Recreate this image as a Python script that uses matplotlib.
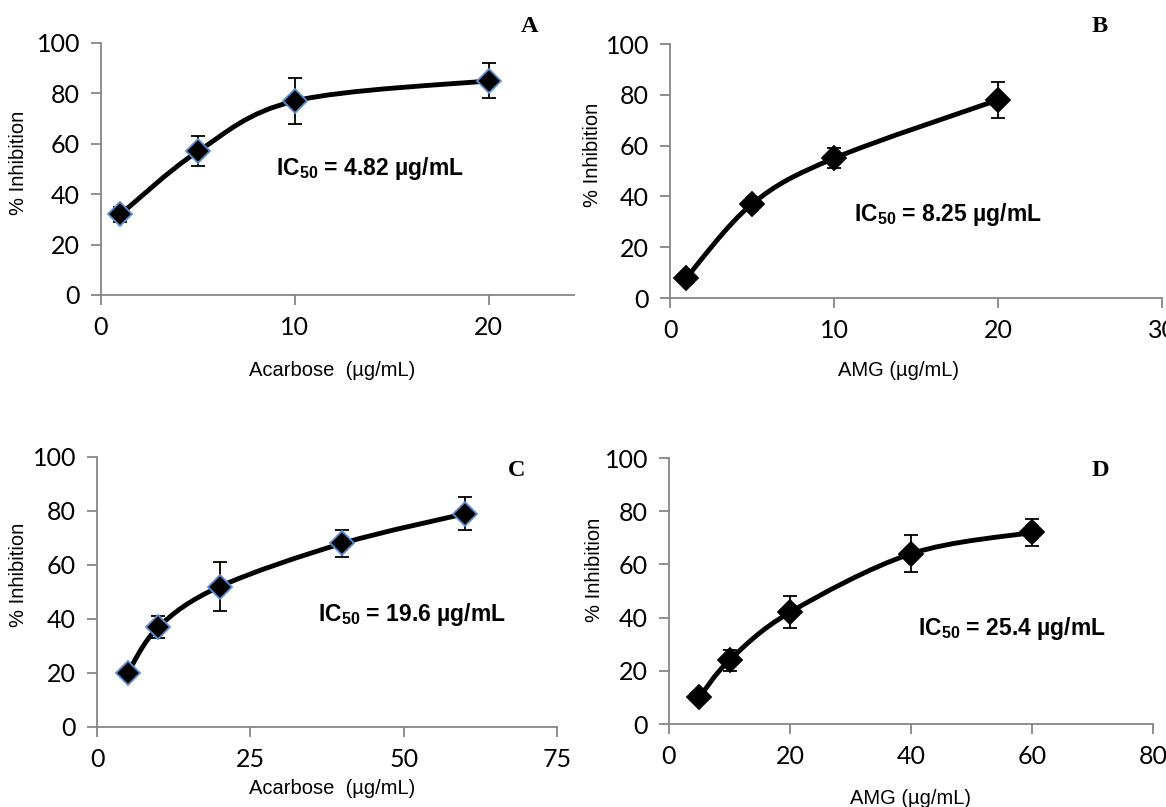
import numpy as np
import matplotlib
matplotlib.use("Agg")
import matplotlib.pyplot as plt
from matplotlib.path import Path
from matplotlib.patches import PathPatch
from matplotlib import font_manager

# panel A - acarbose (alpha-glucosidase)
a_x = [1, 5, 10, 20]
a_y = [32, 57, 77, 85]
a_err = [3, 6, 9, 7]

# panel B - AMG
b_x = [1, 5, 10, 20]
b_y = [8, 37, 55, 78]
b_err = [1, 2, 4, 7]

# panel C - acarbose (alpha-amylase)
c_x = [5, 10, 20, 40, 60]
c_y = [20, 37, 52, 68, 79]
c_err = [1, 4, 9, 5, 6]

# panel D - AMG
d_x = [5, 10, 20, 40, 60]
d_y = [10, 24, 42, 64, 72]
d_err = [1, 4, 6, 7, 5]

W, H = 1166, 807
GREY = '#868686'
TICK_FONT = 'Lato'
LABEL_FONT = 'Liberation Sans'

# narrow bold face for the IC50 notes if it is there
try:
    font_manager.findfont('Liberation Sans Narrow', fallback_to_default=False)
    IC_FONT, IC_SIZE = 'Liberation Sans Narrow', 19.5
except ValueError:
    IC_FONT, IC_SIZE = 'Liberation Sans', 16.5

plt.rcParams['mathtext.fontset'] = 'custom'
plt.rcParams['mathtext.rm'] = IC_FONT + ':bold'
plt.rcParams['mathtext.bf'] = IC_FONT + ':bold'


def px(x, y):
    return x / W, 1 - y / H


def box(l, r, t, b):
    return [l / W, 1 - b / H, (r - l) / W, (b - t) / H]


def smooth_path(x, y):
    # excel style smoothed line: catmull-rom segments as cubic bezier
    p = np.column_stack([x, y]).astype(float)
    n = len(p)
    verts = [p[0]]
    codes = [Path.MOVETO]
    for i in range(n - 1):
        p0 = p[i - 1] if i > 0 else p[i]
        p3 = p[i + 2] if i + 2 < n else p[i + 1]
        c1 = p[i] + (p[i + 1] - p0) / 6.0
        c2 = p[i + 1] - (p3 - p[i]) / 6.0
        verts += [c1, c2, p[i + 1]]
        codes += [Path.CURVE4] * 3
    return Path(verts, codes)


def panel(rect, x, y, err, xlim, xticks, edge):
    ax = fig.add_axes(rect)
    ax.add_patch(PathPatch(smooth_path(x, y), fill=False, lw=3.5,
                           color='black', capstyle='round', zorder=2))
    ax.errorbar(x, y, yerr=err, fmt='none', ecolor='black', elinewidth=1.3,
                capsize=5, capthick=1.3, zorder=3)
    ax.plot(x, y, ls='none', marker='D', ms=12.5, mfc='black', mec=edge,
            mew=1.3, zorder=4, clip_on=False)
    ax.set_xlim(*xlim)
    ax.set_ylim(0, 100)
    ax.set_xticks(xticks)
    ax.set_yticks(range(0, 101, 20))
    for s in ['top', 'right']:
        ax.spines[s].set_visible(False)
    for s in ['left', 'bottom']:
        ax.spines[s].set_color(GREY)
        ax.spines[s].set_linewidth(1.3)
    ax.tick_params(colors=GREY, width=1.3, length=7, labelcolor='black',
                   labelsize=18, pad=8)
    for lab in ax.get_xticklabels() + ax.get_yticklabels():
        lab.set_fontfamily(TICK_FONT)
    ax.patch.set_alpha(0)
    return ax


fig = plt.figure(figsize=(W / 100, H / 100), dpi=100)

panel(box(101, 574, 43, 295), a_x, a_y, a_err, (0, 24.4), [0, 10, 20], '#5b8fd0')
panel(box(670, 1162, 44, 298), b_x, b_y, b_err, (0, 30), [0, 10, 20, 30], 'black')
panel(box(97, 557, 457, 727), c_x, c_y, c_err, (0, 75), [0, 25, 50, 75], '#5b8fd0')
panel(box(669, 1153, 458, 724), d_x, d_y, d_err, (0, 80), [0, 20, 40, 60, 80], 'black')

xlabels = [('Acarbose  (µg/mL)', 332, 370), ('AMG (µg/mL)', 898, 370),
           ('Acarbose  (µg/mL)', 332, 789), ('AMG (µg/mL)', 911, 798)]
for t, x, y in xlabels:
    fig.text(*px(x, y), t, ha='center', va='center', fontsize=14.5,
             family=LABEL_FONT)

ylabels = [(19, 163), (592, 155), (19, 575), (594, 570)]
for x, y in ylabels:
    fig.text(*px(x, y), '% Inhibition', ha='center', va='center',
             rotation=90, fontsize=14.5, family=LABEL_FONT)

letters = [('A', 530, 27), ('B', 1100, 27), ('C', 517, 471), ('D', 1100, 471)]
for t, x, y in letters:
    fig.text(*px(x, y), t, ha='center', va='center', fontsize=17.5,
             fontweight='bold', family='Liberation Serif')

ic50 = [('4.82', 276, 169), ('8.25', 854, 214), ('19.6', 318, 615),
        ('25.4', 918, 629)]
for v, x, y in ic50:
    fig.text(*px(x, y), r'IC$_{50}$ = ' + v + ' µg/mL', ha='left',
             va='center', fontsize=IC_SIZE, fontweight='bold', family=IC_FONT)

fig.savefig('out.png', dpi=100)
